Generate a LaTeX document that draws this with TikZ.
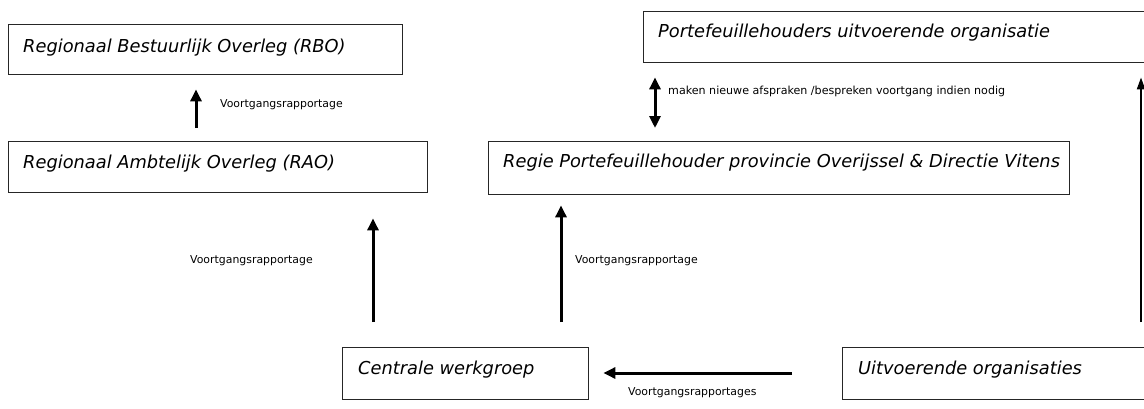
\documentclass[tikz,border=0pt]{standalone}
\usepackage{fontspec}
\setmainfont{DejaVu Sans}
\usetikzlibrary{arrows.meta}
\tikzset{
  box/.style={draw=black!85, line width=1.4pt, rectangle, inner sep=0pt},
  boxtext/.style={anchor=base west, inner sep=0pt, font=\fontsize{17.8}{20}\selectfont\itshape},
  lbl/.style={anchor=west, inner sep=0pt, font=\fontsize{10.9}{13}\selectfont},
  lblsmall/.style={anchor=west, inner sep=0pt, font=\fontsize{11.1}{13}\selectfont},
  arr/.style={line width=3pt, -{Triangle[length=12pt,width=11pt]}},
  dbl/.style={line width=3pt, {Triangle[length=12pt,width=11pt]}-{Triangle[length=12pt,width=11pt]}},
  thinarr/.style={line width=2pt, -{Triangle[length=12pt,width=8pt]}}
}
\begin{document}
\begin{tikzpicture}[x=1pt,y=-1pt]
\useasboundingbox (0,0) rectangle (1144,408);
\clip (0,0) rectangle (1144,408);
% boxes
\node[box, minimum width=394pt, minimum height=50pt, anchor=north west] (rbo) at (8,24) {};
\node[box, minimum width=419pt, minimum height=51pt, anchor=north west] (rao) at (8,141) {};
\node[box, minimum width=520pt, minimum height=51pt, anchor=north west] (port) at (643,11) {};
\node[box, minimum width=581pt, minimum height=53pt, anchor=north west] (regie) at (488,141) {};
\node[box, minimum width=246pt, minimum height=52pt, anchor=north west] (cw) at (342,347) {};
\node[box, minimum width=320pt, minimum height=52pt, anchor=north west] (uo) at (842,347) {};
% box texts
\node[boxtext] (rbot) at ([shift={(15,28)}]rbo.north west) {Regionaal Bestuurlijk Overleg (RBO)};
\node[boxtext] (raot) at ([shift={(15,27)}]rao.north west) {Regionaal Ambtelijk Overleg (RAO)};
\node[boxtext] (portt) at ([shift={(15,26)}]port.north west) {Portefeuillehouders uitvoerende organisatie};
\node[boxtext] (regiet) at ([shift={(15,26)}]regie.north west) {Regie Portefeuillehouder provincie Overijssel \& Directie Vitens};
\node[boxtext] (cwt) at ([shift={(16,27)}]cw.north west) {Centrale werkgroep};
\node[boxtext] (uot) at ([shift={(16,27)}]uo.north west) {Uitvoerende organisaties};
% connectors
\draw[arr, shorten <=13pt, shorten >=14pt] ([xshift=188pt]rao.north west) -- ([xshift=188pt]rbo.south west);
\draw[arr, shorten <=25pt, shorten >=25pt] ([xshift=31pt]cw.north west) -- ([xshift=365pt]rao.south west);
\draw[arr, shorten <=25pt, shorten >=10pt] ([xshift=219pt]cw.north west) -- ([xshift=73pt]regie.south west);
\draw[arr, shorten <=50pt, shorten >=14pt] ([yshift=-26pt]uo.north west) -- ([yshift=-26pt]cw.north east);
\draw[thinarr, shorten <=25pt, shorten >=14pt] ([xshift=299pt]uo.north west) -- ([xshift=498pt]port.south west);
\draw[dbl, shorten <=13pt, shorten >=14pt] ([xshift=167pt]regie.north west) -- ([xshift=12pt]port.south west);
% labels
\node[lbl] (l1) at (220,105) {Voortgangsrapportage};
\node[lbl] (l2) at (190,261) {Voortgangsrapportage};
\node[lbl] (l3) at (575,261) {Voortgangsrapportage};
\node[lbl] (l4) at (628,393) {Voortgangsrapportages};
\node[lblsmall] (l5) at (668,91) {maken nieuwe afspraken /bespreken voortgang indien nodig};
\end{tikzpicture}
\end{document}
